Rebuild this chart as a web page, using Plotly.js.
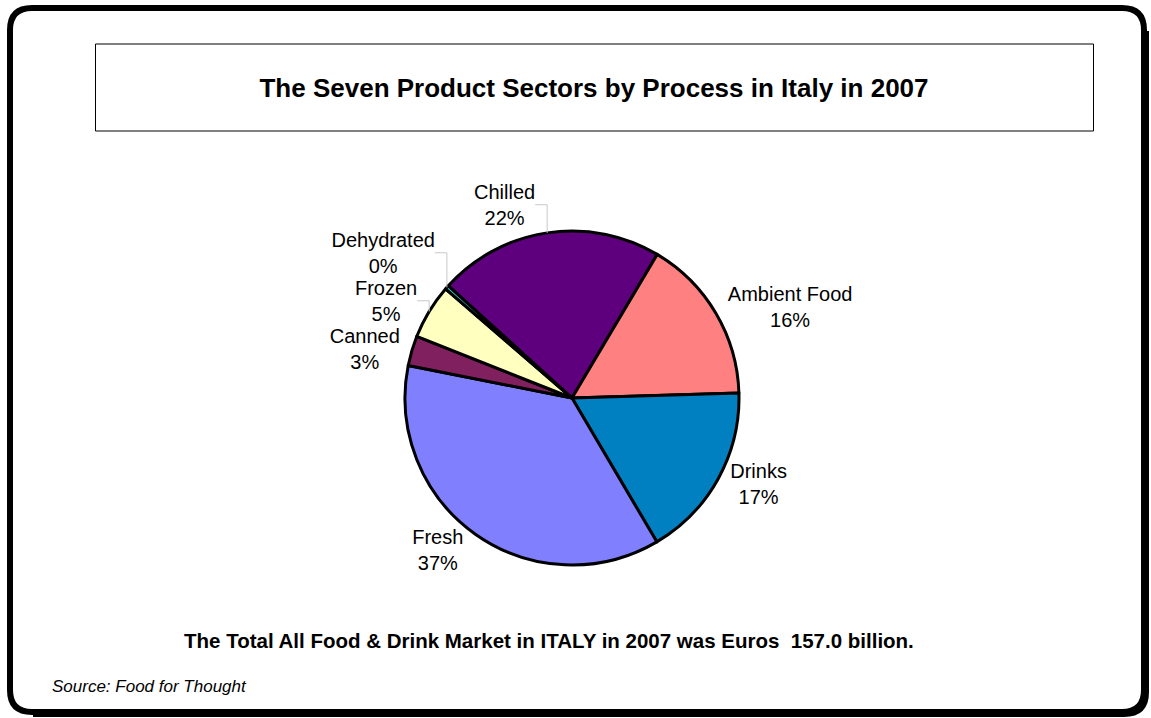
<!DOCTYPE html>
<html>
<head>
<meta charset="utf-8">
<script src="https://cdn.plot.ly/plotly-3.0.1.min.js"></script>
<style>
  html, body { margin: 0; padding: 0; background: #ffffff; }
  #chart { width: 1151px; height: 718px; }
</style>
</head>
<body>
<div id="chart"></div>
<script>
// ---- data (clockwise from the Chilled slice) ----
var categories = ["Chilled", "Ambient Food", "Drinks", "Fresh", "Canned", "Frozen", "Dehydrated"];
var shares = [21.8, 16.0, 17.0, 36.6, 2.9, 5.3, 0.4];
var sliceColors = ["#5E007E", "#FF8080", "#0080C0", "#8080FF", "#80205F", "#FFFFC0", "#33CCCC"];
var chartTitle = "The Seven Product Sectors by Process in Italy in 2007";
var footnote = "The Total All Food &amp; Drink Market in ITALY in 2007 was Euros  157.0 billion.";
var sourceNote = "<i>Source: Food for Thought</i>";

var W = 1151, H = 718;
function px(x) { return x / W; }
function py(y) { return 1 - y / H; }

// rounded rectangle path in paper coordinates
function roundRect(x0, y0, x1, y1, r) {
  return "M " + px(x0 + r) + "," + py(y0) +
    " L " + px(x1 - r) + "," + py(y0) +
    " Q " + px(x1) + "," + py(y0) + " " + px(x1) + "," + py(y0 + r) +
    " L " + px(x1) + "," + py(y1 - r) +
    " Q " + px(x1) + "," + py(y1) + " " + px(x1 - r) + "," + py(y1) +
    " L " + px(x0 + r) + "," + py(y1) +
    " Q " + px(x0) + "," + py(y1) + " " + px(x0) + "," + py(y1 - r) +
    " L " + px(x0) + "," + py(y0 + r) +
    " Q " + px(x0) + "," + py(y0) + " " + px(x0 + r) + "," + py(y0) + " Z";
}
function shadowPath(x0, y0, x1, y1, r) {
  return "M " + px(x1) + "," + py(y0 + r) +
    " L " + px(x1) + "," + py(y1 - r) +
    " Q " + px(x1) + "," + py(y1) + " " + px(x1 - r) + "," + py(y1) +
    " L " + px(x0 + r) + "," + py(y1);
}

var cx = 572, cy = 398, R = 167;

var trace = {
  type: "pie",
  labels: categories,
  values: shares,
  sort: false,
  direction: "clockwise",
  rotation: -47.8,
  marker: { colors: sliceColors, line: { color: "#000000", width: 3 } },
  textposition: "outside",
  texttemplate: "%{label}<br>%{percent:.0%}",
  outsidetextfont: { family: "Liberation Sans, Arial, sans-serif", size: 20, color: "#000000" },
  hoverinfo: "label+percent",
  showlegend: false,
  automargin: false,
  domain: { x: [px(cx - R), px(cx + R)], y: [py(cy + R), py(cy - R)] }
};

var layout = {
  width: W,
  height: H,
  margin: { l: 0, r: 0, t: 0, b: 0 },
  paper_bgcolor: "#ffffff",
  plot_bgcolor: "#ffffff",
  font: { family: "Liberation Sans, Arial, sans-serif", color: "#000000" },
  title: {
    text: "<b>" + chartTitle + "</b>",
    font: { family: "Liberation Sans, Arial, sans-serif", size: 26, color: "#000000" },
    x: px(594), xanchor: "center",
    y: py(88), yanchor: "middle",
    xref: "paper", yref: "paper"
  },
  shapes: [
    { type: "path", xref: "paper", yref: "paper", path: shadowPath(11, 9, 1146, 714, 22),
      line: { color: "#000000", width: 6 }, layer: "above" },
    { type: "path", xref: "paper", yref: "paper", path: roundRect(10, 8, 1144, 712, 22),
      line: { color: "#000000", width: 6 }, layer: "above" },
    { type: "rect", xref: "paper", yref: "paper",
      x0: px(95.5), x1: px(1093.5), y0: py(131), y1: py(44),
      line: { color: "#000000", width: 1 }, fillcolor: "rgba(0,0,0,0)" }
  ],
  annotations: [
    { xref: "paper", yref: "paper", x: px(549), y: py(640), xanchor: "center", yanchor: "middle",
      showarrow: false, text: "<b>" + footnote + "</b>",
      font: { family: "Liberation Sans, Arial, sans-serif", size: 20.5, color: "#000000" } },
    { xref: "paper", yref: "paper", x: px(50), y: py(686), xanchor: "left", yanchor: "middle",
      showarrow: false, text: sourceNote,
      font: { family: "Liberation Sans, Arial, sans-serif", size: 17, color: "#000000" } }
  ]
};

Plotly.newPlot("chart", [trace], layout, { displayModeBar: false, staticPlot: true }).then(function () {
  // faint leader lines, as in the original
  document.querySelectorAll("#chart path.textline").forEach(function (p) {
    p.style.stroke = "#c8c8c8";
    p.style.strokeWidth = "1px";
  });
});
</script>
</body>
</html>
